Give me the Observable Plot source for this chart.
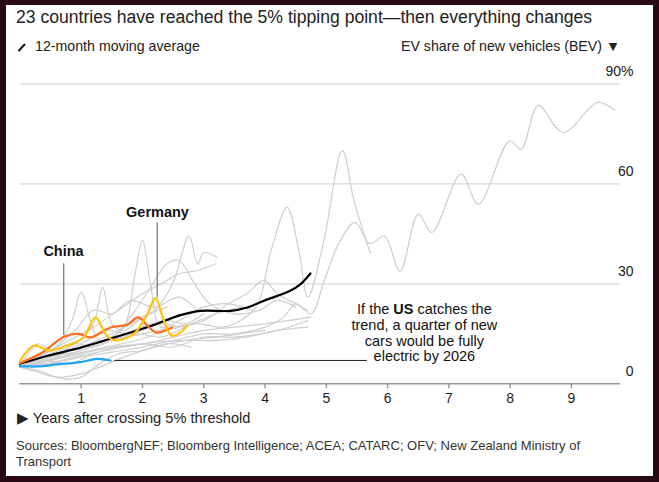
<!DOCTYPE html>
<html>
<head>
<meta charset="utf-8">
<script src="https://cdn.jsdelivr.net/npm/d3@7"></script>
<script src="https://cdn.jsdelivr.net/npm/@observablehq/plot@0.6"></script>
<style>
  html, body { margin:0; padding:0; }
  body { width:659px; height:482px; background:#2a0a12; position:relative; overflow:hidden;
         font-family:"Liberation Sans", Arial, Helvetica, sans-serif; color:#222; }
  #card { position:absolute; left:6px; top:5px; width:647px; height:471px; background:#fff; }
  .abs { position:absolute; white-space:nowrap; }
  #title { left:16px; top:7px; font-size:17.6px; color:#222; }
  #legL { left:17px; top:38px; font-size:14.2px; color:#222; }
  #legR { right:39px; top:38px; font-size:14.2px; color:#222; }
  #xlab { left:17px; top:409px; font-size:14.6px; color:#222; }
  #src { left:16px; top:438px; font-size:13px; line-height:16px; color:#333; }
  #chart { position:absolute; left:0; top:0; }
</style>
</head>
<body>
<div id="card"></div>
<div id="chart"></div>
<div class="abs" id="title">23 countries have reached the 5% tipping point—then everything changes</div>
<div class="abs" id="legL"><svg width="10" height="10" style="vertical-align:-1px;margin-right:8px"><line x1="1.5" y1="9" x2="8" y2="2" stroke="#111" stroke-width="2"/></svg>12-month moving average</div>
<div class="abs" id="legR">EV share of new vehicles (BEV) ▼</div>
<div class="abs" id="xlab">▶ Years after crossing 5% threshold</div>
<div class="abs" id="src">Sources: BloombergNEF; Bloomberg Intelligence; ACEA; CATARC; OFV; New Zealand Ministry of<br>Transport</div>
<script>
// ---- data: [years after crossing 5%, BEV share %] ----
const average = [[0,6],[0.47,8.5],[1.02,11],[1.56,14],[2.1,17.1],[2.62,20.6],[2.95,21.9],[3.44,21.9],[3.71,22.9],[3.98,24.9],[4.41,27.9],[4.58,29.9],[4.74,33.1]];
const china = [[0,6.2],[0.36,9.3],[0.72,14.1],[0.96,15],[1.15,13.9],[1.48,16.9],[1.75,17.7],[1.93,19.9],[2.08,17.5],[2.22,15.4],[2.48,16.9]];
const germany = [[0,6.8],[0.23,11.5],[0.47,10],[0.77,11.5],[1.04,13.9],[1.23,19.9],[1.42,14.4],[1.56,13],[1.86,15],[2.08,20.9],[2.21,25.7],[2.35,18.9],[2.48,14.4],[2.62,15.4],[2.73,17.4]];
const us = [[0,5.3],[0.3,5.2],[0.6,5.8],[0.99,6.5],[1.26,7.5],[1.48,7.0]];

const other01 = [[0,5],[0.5,6],[1,8],[1.5,9.5],[2,11],[2.5,13],[3,15],[3.5,15],[4,17],[4.3,20],[4.5,24],[4.75,21],[4.95,30],[5.2,42],[5.47,48.4],[5.71,42],[5.95,44.3],[6.2,33.8],[6.5,50.9],[6.72,45.4],[7.2,62.9],[7.48,53.9],[7.99,72.9],[8.18,70.4],[8.46,83.5],[8.86,75.4],[9.43,84.4],[9.71,82]];
const other02 = [[0,5],[0.4,7],[0.9,9],[1.4,11],[1.9,13],[2.4,16],[2.9,18],[3.3,17],[3.6,19],[3.87,23.4],[4.1,40],[4.36,53],[4.55,40],[4.7,26],[4.96,43],[5.26,70],[5.45,55],[5.72,39]];
const other03 = [[0,5],[0.5,7],[1,9],[1.5,11],[2,12],[2.5,14],[3,16],[3.5,17],[4,18],[4.4,19],[4.74,20]];
const other04 = [[0,5],[0.4,6],[0.9,8],[1.4,10],[2,12],[2.6,13],[3.2,13],[3.7,14],[4.2,16],[4.7,17]];
const other05 = [[0,5],[0.3,8],[0.6,11],[0.85,19],[1.0,27.5],[1.15,19],[1.3,13],[1.6,14],[2.0,17],[2.4,19],[2.7,18],[3.0,21]];
const other06 = [[0,5],[0.5,8],[1,10],[1.4,13],[1.7,17],[1.87,32],[2.0,43],[2.13,30],[2.3,17],[2.6,19],[3.0,23],[3.4,24],[3.8,22]];
const other07 = [[0,5],[0.5,8],[1,11],[1.5,15],[1.9,19],[2.2,22],[2.5,30.4],[2.76,44.4],[2.9,36],[3.0,39.4],[3.22,37.9]];
const other08 = [[0,5],[0.4,9],[0.8,13],[1.2,17],[1.6,22],[2.0,27],[2.3,30],[2.6,33],[2.9,34],[3.2,36]];
const other09 = [[0,5],[0.3,3.5],[0.6,2],[1.0,3],[1.3,5],[1.7,8],[2.2,11],[2.7,13],[3.2,14],[3.6,15],[4.0,16]];
const other10 = [[0,5],[0.4,7],[0.8,6],[1.2,9],[1.6,11],[2.0,12],[2.5,11],[3.0,14],[3.5,14],[4.2,16],[4.7,19]];
const other11 = [[0,5],[0.5,10],[0.9,16],[1.2,22],[1.5,21],[1.8,25],[2.2,23],[2.6,26],[2.9,22]];
const other12 = [[0,5],[0.3,12],[0.6,9],[1,12],[1.4,16],[1.8,15],[2.3,18],[2.6,17]];
const other13 = [[0,5],[0.5,8],[1,11],[1.5,14],[1.8,20],[2.1,28],[2.4,36],[2.6,37],[2.85,30],[3.1,24],[3.5,21],[3.9,22],[4.2,25],[4.5,23]];
const other14 = [[0,5],[0.3,4],[0.7,1.5],[1.0,2],[1.3,6],[1.6,9],[2.0,10],[2.4,12],[2.8,11]];
const other15 = [[0,5],[0.3,6],[0.6,8],[0.9,12],[1.2,11],[1.5,13],[1.9,15],[2.3,14],[2.8,18],[3.2,21],[3.6,23]];
const other16 = [[0,5],[0.5,9],[0.9,12],[1.2,18],[1.35,29],[1.5,18],[1.7,16],[2.0,20],[2.4,23]];
const other17 = [[0,5],[0.5,7],[1,10],[1.5,13],[2,15],[2.5,17],[3,19],[3.4,24],[3.7,27],[3.98,31],[4.2,27],[4.5,24],[4.7,22]];
const others = [other01,other02,other03,other04,other05,other06,other07,other08,other09,other10,other11,other12,other13,other14,other15,other16,other17];

const xTicks = [1,2,3,4,5,6,7,8,9];
const yTicks = [0,30,60,90];
const gridTicks = [30,60,90];
const xMax = 9.8, yMax = 90;

const labels = [
  {name:"China", x:0.712, y:39.6},
  {name:"Germany", x:2.245, y:51.5}
];
const connectors = [
  {x:0.716, y1:36.0, y2:14.45},
  {x:2.24, y1:48.25, y2:25.8}
];
const usLink = {x1:1.55, x2:5.67, y:7.0};
const usNote = {x:6.6, y:15.35, text:"If the US catches the\ntrend, a quarter of new\ncars would be fully\nelectric by 2026"};

// ---- build rows ----
const toRows = (arr, id) => arr.map(([x,y]) => ({id, x, y}));
const grayRows = others.flatMap((a,i) => toRows(a, "c"+i));

const plot = Plot.plot({
  width: 659, height: 420,
  marginLeft: 19.4, marginRight: 39, marginTop: 83.3, marginBottom: 36.7,
  style: {background:"transparent", fontFamily:"'Liberation Sans', Arial, sans-serif"},
  x: {domain:[0,xMax]},
  y: {domain:[0,yMax]},
  marks: [
    Plot.gridY(gridTicks, {stroke:"#d8d8d8", strokeOpacity:1, strokeWidth:1.2}),
    Plot.axisY(yTicks, {anchor:"right", tickSize:0, tickPadding:0, dx:13, dy:-12, textAnchor:"end",
      fontSize:14, fill:"#222", label:null, tickFormat: d => d===90 ? "90%" : String(d)}),
    Plot.axisX(xTicks, {tickSize:5, stroke:"#999", strokeWidth:1.5, fontSize:14, fill:"#222", label:null, tickFormat: d => String(d)}),
    Plot.ruleY([0], {stroke:"#999", strokeWidth:1.5}),
    Plot.line(grayRows, {x:"x", y:"y", z:"id", stroke:"#cfcfcf", strokeWidth:1.2, curve:"catmull-rom"}),
    Plot.ruleX(connectors, {x:"x", y1:"y1", y2:"y2", stroke:"#555", strokeWidth:1}),
    Plot.ruleY([usLink], {x1:"x1", x2:"x2", y:"y", stroke:"#222", strokeWidth:1}),
    Plot.line(toRows(average,"avg"), {x:"x", y:"y", stroke:"#000", strokeWidth:2.2, curve:"catmull-rom"}),
    Plot.line(toRows(us,"us"), {x:"x", y:"y", stroke:"#1ea5f2", strokeWidth:2.2, curve:"catmull-rom"}),
    Plot.line(toRows(china,"china"), {x:"x", y:"y", stroke:"#ff6a1c", strokeWidth:2.2, curve:"catmull-rom"}),
    Plot.line(toRows(germany,"de"), {x:"x", y:"y", stroke:"#ffc20f", strokeWidth:2.2, curve:"catmull-rom"}),
    Plot.text(labels, {x:"x", y:"y", text:"name", fontSize:14.5, fontWeight:"bold", fill:"#111"}),
    Plot.text([usNote], {x:"x", y:"y", text:"text", fontSize:14.5, lineHeight:1.09, fill:"#111", textAnchor:"middle", lineAnchor:"middle"})
  ]
});
document.getElementById("chart").appendChild(plot);

// bold "US" inside the annotation's first line
d3.select(plot).selectAll("text").each(function() {
  const first = this.querySelector("tspan");
  if (first && first.textContent === "If the US catches the") {
    first.textContent = "";
    const sel = d3.select(first);
    sel.append("tspan").text("If the ");
    sel.append("tspan").attr("font-weight","bold").text("US");
    sel.append("tspan").text(" catches the");
  }
});
</script>
</body>
</html>
